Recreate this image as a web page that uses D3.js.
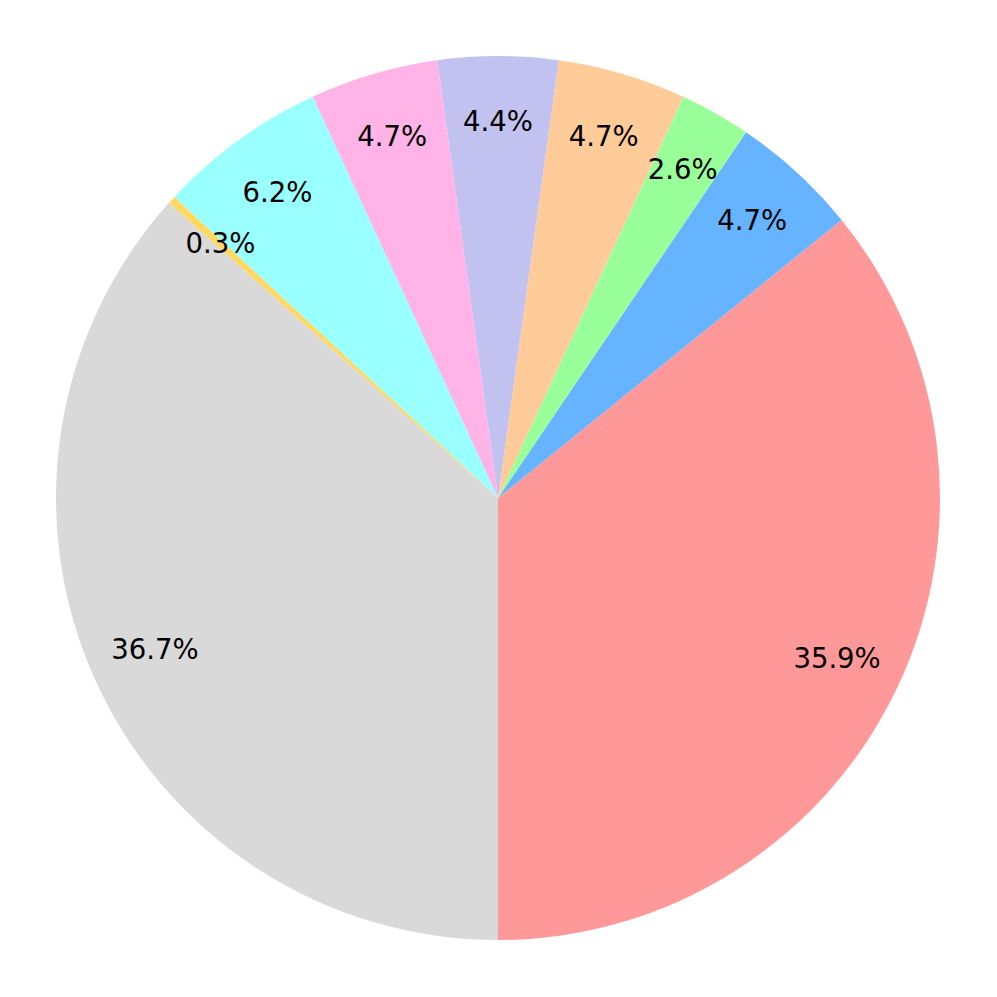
<!DOCTYPE html>
<html>
<head>
<meta charset="utf-8">
<style>
body { margin: 0; background: #fff; }
text {
  font-family: "DejaVu Sans", sans-serif;
  font-size: 27.5px;
  fill: #000;
}
</style>
</head>
<body>
<script src="https://cdn.jsdelivr.net/npm/d3@7"></script>
<script>

// slice shares in percent, in drawing order (counterclockwise from the bottom)
var shares = [35.9, 4.7, 2.6, 4.7, 4.4, 4.7, 6.2, 0.3, 36.7];
var labels = ["35.9%", "4.7%", "2.6%", "4.7%", "4.4%", "4.7%", "6.2%", "0.3%", "36.7%"];
var colors = ["#ff9999", "#66b3ff", "#99ff99", "#ffcc99", "#c2c2f0",
              "#ffb3e6", "#99ffff", "#ffd966", "#d9d9d9"];

var width = 997,
    height = 997,
    radius = 442;

var svg = d3.select("body").append("svg")
    .attr("width", width)
    .attr("height", height);

var g = svg.append("g")
    .attr("transform", "translate(498,498)");

// d3 angles run clockwise from 12 o'clock; start at 6 o'clock and go backwards
var pie = d3.pie()
    .sort(null)
    .startAngle(Math.PI)
    .endAngle(-Math.PI);

var arcs = pie(shares);

var arc = d3.arc()
    .innerRadius(0)
    .outerRadius(radius);

var labelArc = d3.arc()
    .innerRadius(radius * 0.85)
    .outerRadius(radius * 0.85);

g.selectAll("path")
    .data(arcs)
    .enter()
    .append("path")
    .attr("d", arc)
    .attr("fill", function(d, i) { return colors[i]; });

g.selectAll("text")
    .data(arcs)
    .enter()
    .append("text")
    .attr("transform", function(d) { return "translate(" + labelArc.centroid(d) + ")"; })
    .attr("text-anchor", "middle")
    .attr("dy", "0.3em")
    .text(function(d, i) { return labels[i]; });

</script>
</body>
</html>
